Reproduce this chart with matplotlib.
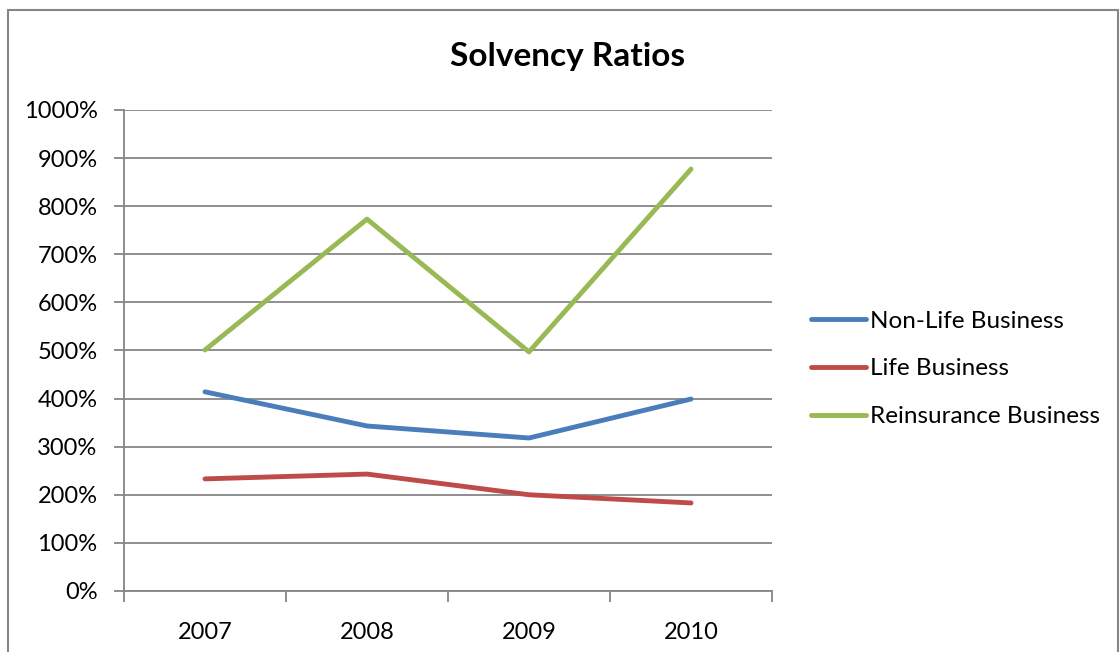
import matplotlib.pyplot as plt
from matplotlib.patches import Rectangle
from matplotlib.ticker import FixedLocator

# data (percent)
years = ['2007', '2008', '2009', '2010']
non_life = [414, 343, 318, 399]
life = [233, 243, 200, 183]
reinsurance = [501, 773, 497, 877]

plt.rcParams['font.family'] = ['Lato', 'DejaVu Sans']

fig = plt.figure(figsize=(11.2, 6.52), dpi=100)
ax = fig.add_axes([0.1107, 0.0936, 0.5786, 0.7378])

# outer chart frame
fig.patches.append(Rectangle((8 / 1120, -0.01), (1110 / 1120), 1 - 10 / 652 + 0.01,
                             transform=fig.transFigure, fill=False,
                             edgecolor='#868686', linewidth=1.5))

x = range(len(years))
ax.plot(x, non_life, color='#4A7EBB', linewidth=3.5, solid_capstyle='round', label='Non-Life Business')
ax.plot(x, life, color='#BE4B48', linewidth=3.5, solid_capstyle='round', label='Life Business')
ax.plot(x, reinsurance, color='#98B954', linewidth=3.5, solid_capstyle='round', label='Reinsurance Business')

ax.set_xlim(-0.5, len(years) - 0.5)
ax.set_ylim(0, 1000)
ax.set_yticks(range(0, 1001, 100))
ax.set_yticklabels([f'{v}%' for v in range(0, 1001, 100)], fontsize=17)

# category boundaries as ticks, labels centred on the categories
ax.xaxis.set_major_locator(FixedLocator([i - 0.5 for i in range(len(years) + 1)]))
ax.xaxis.set_major_formatter(plt.NullFormatter())
ax.xaxis.set_minor_locator(FixedLocator(list(x)))
ax.set_xticklabels(years, minor=True, fontsize=17)
ax.tick_params(axis='x', which='minor', length=0, pad=22)
ax.tick_params(axis='x', which='major', length=8, width=1.3, color='#868686')
ax.tick_params(axis='y', length=7, width=1.3, color='#868686', pad=12)

ax.grid(axis='y', color='#868686', linewidth=1.3)
ax.set_axisbelow(True)
for s in ['top', 'right']:
    ax.spines[s].set_visible(False)
for s in ['left', 'bottom']:
    ax.spines[s].set_color('#868686')
    ax.spines[s].set_linewidth(1.3)

fig.text(0.507, 0.914, 'Solvency Ratios', ha='center', va='center', fontsize=24, fontweight='bold')

leg = ax.legend(loc='center left', bbox_to_anchor=(1.042, 0.4615), frameon=False, fontsize=17.5,
                handlelength=2.25, handletextpad=0.17, labelspacing=1.1, borderpad=0)

fig.savefig('out.png', dpi=100)
